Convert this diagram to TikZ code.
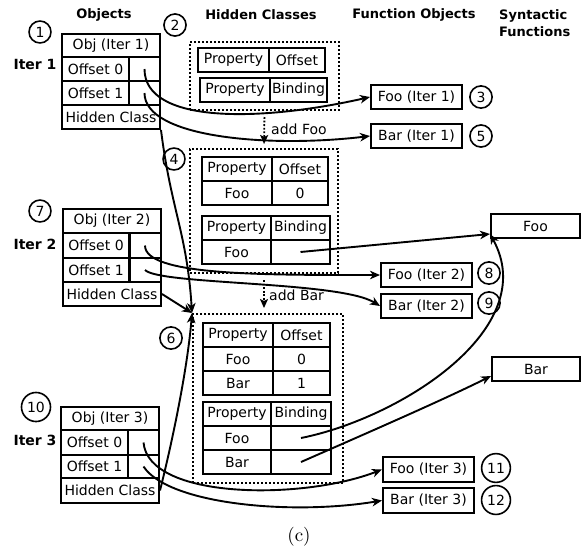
\documentclass[tikz,border=0pt]{standalone}
\usepackage{fontspec}
\newfontfamily\dv{DejaVu Sans}
\usetikzlibrary{arrows.meta,calc}
\newcommand\txt{\dv\fontsize{14}{16}\selectfont}
\newcommand\hdr{\dv\bfseries\fontsize{13}{17}\selectfont}
\newcommand\cellat[6]{\node[cell, minimum width=#4pt, minimum height=#5pt] (#1) at (#2,#3) {#6};}
\tikzset{
  cell/.style={draw, line width=2pt, inner sep=0pt, font=\txt},
  hcbox/.style={draw, line width=2pt, dash pattern=on 2pt off 2pt, inner sep=0pt},
  num/.style={draw, circle, line width=1.6pt, inner sep=3pt, font=\txt},
  head/.style={font=\hdr, inner sep=0pt},
  arr/.style={line width=1.9pt, -{Stealth[length=10pt,width=8.5pt,inset=3pt]}},
  dotarr/.style={line width=1.8pt, dash pattern=on 1.8pt off 1.8pt, -{Stealth[length=9pt,width=8pt,inset=2pt]}},
  lab/.style={font=\txt, inner sep=0pt, anchor=west},
}
\begin{document}
\begin{tikzpicture}[x=1pt,y=-1pt]
\useasboundingbox (0,0) rectangle (584,550);
% headers
\node[head] (hobj) at (104,15) {Objects};
\node[head] (hhc) at (261,15) {Hidden Classes};
\node[head] (hfo) at (414,15) {Function Objects};
\node[head, align=left, anchor=west] (hsf) at (499,23.5) {Syntactic\\Functions};
% iter labels
\node[head, font=\dv\bfseries\fontsize{14}{16}\selectfont] (it1) at (35,64) {Iter 1};
\node[head, font=\dv\bfseries\fontsize{14}{16}\selectfont] (it2) at (35,244) {Iter 2};
\node[head, font=\dv\bfseries\fontsize{14}{16}\selectfont] (it3) at (35,440) {Iter 3};
% object tables
\cellat{o1t}{111}{45.5}{98}{23}{Obj (Iter 1)}
\cellat{o1k0}{95.5}{69}{67}{24}{Offset 0}
\cellat{o1v0}{144.5}{69}{31}{24}{}
\cellat{o1k1}{95.5}{93}{67}{24}{Offset 1}
\cellat{o1v1}{144.5}{93}{31}{24}{}
\cellat{o1hc}{111}{117}{98}{24}{Hidden Class}
\cellat{o2t}{112}{221}{98}{24}{Obj (Iter 2)}
\cellat{o2k0}{96}{245.5}{67}{25}{Offset 0}
\cellat{o2v0}{145}{245.5}{32}{25}{}
\cellat{o2k1}{96}{270}{67}{24}{Offset 1}
\cellat{o2v1}{145}{270}{32}{24}{}
\cellat{o2hc}{112}{294}{98}{24}{Hidden Class}
\cellat{o3t}{110}{418.5}{98}{23}{Obj (Iter 3)}
\cellat{o3k0}{94.5}{442.5}{67}{25}{Offset 0}
\cellat{o3v0}{143.5}{442.5}{31}{25}{}
\cellat{o3k1}{94.5}{466.5}{67}{23}{Offset 1}
\cellat{o3v1}{143.5}{466.5}{31}{23}{}
\cellat{o3hc}{110}{490.5}{98}{25}{Hidden Class}
% hidden class boxes
\node[hcbox, minimum width=149pt, minimum height=68pt] (hc1) at (264.5,76) {};
\node[hcbox, minimum width=148pt, minimum height=124pt] (hc2) at (264,211) {};
\node[hcbox, minimum width=150pt, minimum height=169pt] (hc3) at (268,398.5) {};
% HC1 tables
\cellat{a1p}{233.5}{60}{71}{24}{Property}
\cellat{a1o}{297}{60}{56}{24}{Offset}
\cellat{b1p}{235}{90}{70}{24}{Property}
\cellat{b1b}{298.5}{90}{57}{24}{Binding}
% HC2 tables
\cellat{a2p}{237}{169}{70}{24}{Property}
\cellat{a2o}{300}{169}{56}{24}{Offset}
\cellat{a2pf}{237}{193}{70}{24}{Foo}
\cellat{a2of}{300}{193}{56}{24}{0}
\cellat{b2p}{236.5}{228}{69}{24}{Property}
\cellat{b2b}{300.5}{228}{59}{24}{Binding}
\cellat{b2pf}{236.5}{252}{69}{24}{Foo}
\cellat{b2bf}{300.5}{252}{59}{24}{}
% HC3 tables
\cellat{a3p}{238}{335}{70}{24}{Property}
\cellat{a3o}{301.5}{335}{57}{24}{Offset}
\cellat{a3pf}{238}{359}{70}{24}{Foo}
\cellat{a3of}{301.5}{359}{57}{24}{0}
\cellat{a3pb}{238}{383}{70}{24}{Bar}
\cellat{a3ob}{301.5}{383}{57}{24}{1}
\cellat{b3p}{237}{414}{68}{24}{Property}
\cellat{b3b}{301}{414}{60}{24}{Binding}
\cellat{b3pf}{237}{438}{68}{24}{Foo}
\cellat{b3bf}{301}{438}{60}{24}{}
\cellat{b3pb}{237}{462}{68}{24}{Bar}
\cellat{b3bb}{301}{462}{60}{24}{}
% function objects
\cellat{f1}{416.5}{97}{91}{24}{Foo (Iter 1)}
\cellat{g1}{416.5}{136}{91}{24}{Bar (Iter 1)}
\cellat{f2}{426.5}{275}{91}{24}{Foo (Iter 2)}
\cellat{g2}{426.5}{306}{91}{24}{Bar (Iter 2)}
\cellat{f3}{428.5}{469.5}{91}{25}{Foo (Iter 3)}
\cellat{g3}{428.5}{500.5}{91}{25}{Bar (Iter 3)}
\cellat{sfoo}{535.5}{226}{89}{24}{Foo}
\cellat{sbar}{536}{369}{88}{24}{Bar}
% circled numbers
\node[num] (n1) at (40,32) {1};
\node[num] (n2) at (175,25) {2};
\node[num] (n3) at (481,97) {3};
\node[num] (n4) at (174,159) {4};
\node[num] (n5) at (481,136) {5};
\node[num] (n6) at (171,338) {6};
\node[num] (n7) at (40,211) {7};
\node[num] (n8) at (489,273) {8};
\node[num] (n9) at (489,303) {9};
\node[num] (n10) at (36,407) {10};
\node[num] (n11) at (496,468) {11};
\node[num] (n12) at (496,500) {12};
% add labels
\draw[dotarr, shorten <=6pt, shorten >=4pt] (hc1.south) -- (hc2.north);
\node[lab] (addfoo) at (271,129) {add Foo};
\coordinate (hc3top) at (hc2.south |- hc3.north);
\draw[dotarr, shorten <=6pt, shorten >=5pt] (hc2.south) -- (hc3top);
\node[lab] (addbar) at (269,295) {add Bar};
% connectors
\coordinate (sfooin) at ($(sfoo.south west)+(0,-5)$);
\coordinate (sbarin) at ($(sbar.south west)+(0,-6)$);
\draw[arr] (o1v0.center) .. controls +(0,55) and +(-110,25) .. (f1.west);
\draw[arr] (o1v1.center) .. controls +(0,45) and +(-100,12) .. (g1.west);
\draw[arr] (o1hc.south east) .. controls +(10,80) and +(-5,-80) .. (hc3.north west);
\draw[arr] (o2hc.east) -- (hc3.north west);
\draw[arr] (o3hc.east) .. controls +(15,-60) and +(-4,50) .. (hc3.north west);
\draw[arr] (o2v0.center) .. controls +(0,30) and +(-120,0) .. (f2.west);
\draw[arr] (o2v1.center) .. controls +(15,15) and +(-40,-25) .. (g2.west);
\draw[arr] (b2bf.center) -- (sfooin);
\draw[arr] (b3bf.center) .. controls +(100,-20) and +(52,94) .. (sfooin);
\draw[arr] (b3bb.center) .. controls +(50,-22) and +(-50,25) .. (sbarin);
\draw[arr] (o3v0.center) .. controls +(5,57) and +(-80,31) .. (f3.west);
\draw[arr] (o3v1.center) .. controls +(25,38) and +(-90,15) .. (g3.west);
% caption
\node[inner sep=0pt] (cap) at (299,537) {\scalebox{1.9}{\rmfamily\fontsize{10}{12}\selectfont (c)}};
\end{tikzpicture}
\end{document}
